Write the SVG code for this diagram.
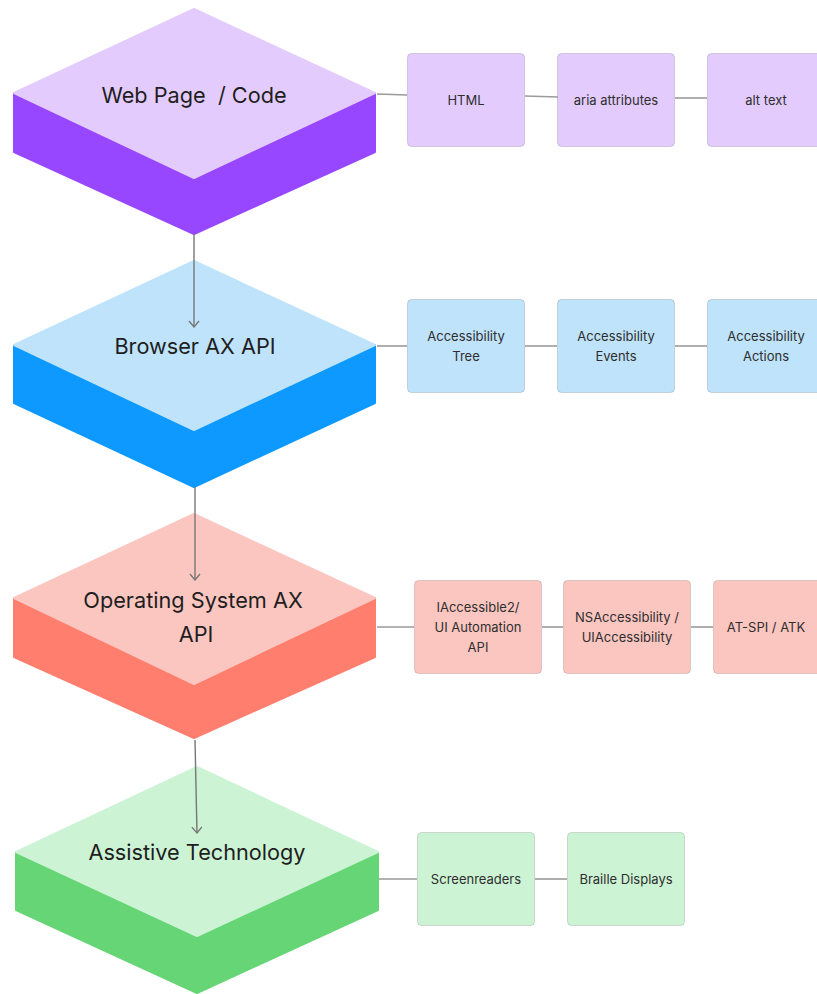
<svg xmlns="http://www.w3.org/2000/svg" width="817" height="994" viewBox="0 0 817 994">
<style>
.t{font-family:Inter,"Noto Sans","Liberation Sans",sans-serif;fill:#1e1e1e;text-anchor:middle}
.big{font-size:21.7px}
.sm{font-size:13px;fill:#2e2e2e}
.box{stroke:#000;stroke-opacity:0.13;stroke-width:1}
.lnk{stroke:#9a9a9a;stroke-width:1.6;fill:none}
.arr{stroke:#777;stroke-width:1.4;fill:none}
.face{stroke-linejoin:round;stroke-width:2}
.pT{fill:#E3CCFD;stroke:#E3CCFD}.pS{fill:#9747FF;stroke:#9747FF}.pB{fill:#E3CCFD}
.bT{fill:#BEE3FB;stroke:#BEE3FB}.bS{fill:#0D99FF;stroke:#0D99FF}.bB{fill:#BEE3FB}
.rT{fill:#FCC6C0;stroke:#FCC6C0}.rS{fill:#FF7E6D;stroke:#FF7E6D}.rB{fill:#FCC6C0}
.gT{fill:#CDF3D5;stroke:#CDF3D5}.gS{fill:#66D575;stroke:#66D575}.gB{fill:#CDF3D5}
</style>
<defs>
<marker id="ah" viewBox="0 0 12 12" refX="11" refY="6" markerWidth="12" markerHeight="12" markerUnits="userSpaceOnUse" orient="auto">
<path d="M5,1 L11,6 L5,11" fill="none" stroke="#777" stroke-width="1.4"/>
</marker>
</defs>

<g id="web-page">
<path class="face pS" d="M14,93 L14,152 L194,234 L375,152 L375,93 L194,178 Z"/>
<path class="face pT" d="M194,9 L375,93 L194,178 L14,93 Z"/>
<text class="t big" x="194" y="103" xml:space="preserve">Web Page  / Code</text>
</g>
<g id="html"><rect class="box pB" x="407.5" y="53.5" width="117" height="93" rx="4"/><text class="t sm" x="466" y="105">HTML</text></g>
<g id="aria"><rect class="box pB" x="557.5" y="53.5" width="117" height="93" rx="4"/><text class="t sm" x="616" y="105">aria attributes</text></g>
<g id="alt"><rect class="box pB" x="707.5" y="53.5" width="117" height="93" rx="4"/><text class="t sm" x="766" y="105">alt text</text></g>

<g id="browser">
<path class="face bS" d="M14,345 L14,403 L194,487 L375,403 L375,345 L194,430 Z"/>
<path class="face bT" d="M194,261 L375,345 L194,430 L14,345 Z"/>
<text class="t big" x="195" y="354">Browser AX API</text>
</g>
<g id="tree"><rect class="box bB" x="407.5" y="299.5" width="117" height="93" rx="4"/><text class="t sm" x="466" y="341">Accessibility</text><text class="t sm" x="466" y="361">Tree</text></g>
<g id="events"><rect class="box bB" x="557.5" y="299.5" width="117" height="93" rx="4"/><text class="t sm" x="616" y="341">Accessibility</text><text class="t sm" x="616" y="361">Events</text></g>
<g id="actions"><rect class="box bB" x="707.5" y="299.5" width="117" height="93" rx="4"/><text class="t sm" x="766" y="341">Accessibility</text><text class="t sm" x="766" y="361">Actions</text></g>

<g id="os">
<path class="face rS" d="M14,598 L14,657 L194,738 L375,657 L375,598 L194,684 Z"/>
<path class="face rT" d="M194,514 L375,598 L194,684 L14,598 Z"/>
<text class="t big" x="193" y="608">Operating System AX</text>
<text class="t big" x="196" y="642">API</text>
</g>
<g id="ia2"><rect class="box rB" x="414.5" y="580.5" width="127" height="93" rx="4"/><text class="t sm" x="478" y="612">IAccessible2/</text><text class="t sm" x="478" y="632">UI Automation</text><text class="t sm" x="478" y="652">API</text></g>
<g id="nsa"><rect class="box rB" x="563.5" y="580.5" width="127" height="93" rx="4"/><text class="t sm" x="627" y="622">NSAccessibility /</text><text class="t sm" x="627" y="642">UIAccessibility</text></g>
<g id="atspi"><rect class="box rB" x="713.5" y="580.5" width="127" height="93" rx="4"/><text class="t sm" x="766" y="632">AT-SPI / ATK</text></g>

<g id="at">
<path class="face gS" d="M16,852 L16,910 L197,993 L378,910 L378,852 L197,936 Z"/>
<path class="face gT" d="M197,767 L378,852 L197,936 L16,852 Z"/>
<text class="t big" x="197" y="860">Assistive Technology</text>
</g>
<g id="sr"><rect class="box gB" x="417.5" y="832.5" width="117" height="93" rx="4"/><text class="t sm" x="476" y="884">Screenreaders</text></g>
<g id="braille"><rect class="box gB" x="567.5" y="832.5" width="117" height="93" rx="4"/><text class="t sm" x="626" y="884">Braille Displays</text></g>

<g id="connectors">
<line class="arr" x1="194" y1="234" x2="194" y2="327" marker-end="url(#ah)"/>
<line class="arr" x1="195" y1="487" x2="195" y2="580" marker-end="url(#ah)"/>
<line class="arr" x1="195" y1="740" x2="197" y2="833" marker-end="url(#ah)"/>
<path class="lnk" d="M377,94 L407,95"/>
<path class="lnk" d="M525,96 L558,97"/>
<path class="lnk" d="M675,98 L707,98"/>
<path class="lnk" d="M377,346 L407,346"/>
<path class="lnk" d="M525,346 L557,346"/>
<path class="lnk" d="M675,346 L707,346"/>
<path class="lnk" d="M377,627 L414,627"/>
<path class="lnk" d="M542,627 L563,627"/>
<path class="lnk" d="M691,627 L713,627"/>
<path class="lnk" d="M379,879 L417,879"/>
<path class="lnk" d="M535,879 L567,879"/>
</g>
</svg>
